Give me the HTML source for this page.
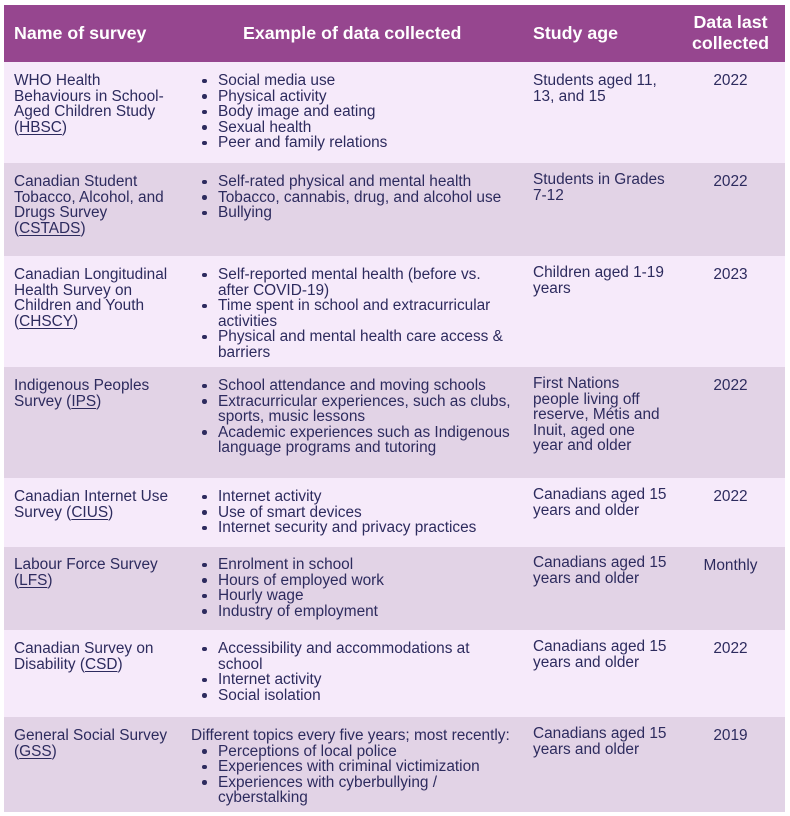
<!DOCTYPE html>
<html>
<head>
<meta charset="utf-8">
<style>
  html,body{margin:0;padding:0;}
  body{width:790px;height:816px;background:#ffffff;position:relative;overflow:hidden;
       font-family:"Liberation Sans",Arial,sans-serif;color:#2d2b5e;}
  .row{position:absolute;left:4px;width:781px;}
  .hd{background:#96468f;}
  .lt{background:#f6eafa;}
  .dk{background:#e2d3e6;}
  .h{position:absolute;color:#ffffff;font-weight:bold;font-size:17.8px;line-height:21px;white-space:nowrap;}
  .c{position:absolute;font-size:15.4px;line-height:15.5px;white-space:nowrap;margin-top:1px;}
  .c1{left:14px;}
  .c2{left:218px;}
  .c3{left:533px;}
  .c4{left:677px;width:107px;text-align:center;}
  .li{position:relative;}
  .li::before{content:"";position:absolute;left:-16px;top:5.5px;width:4.6px;height:4.6px;border-radius:50%;background:#2d2b5e;}
  u{text-decoration:underline;text-underline-offset:2px;}
</style>
</head>
<body>
  <!-- row backgrounds -->
  <div class="row hd" style="top:5px;height:57px;"></div>
  <div class="row lt" style="top:62px;height:101px;"></div>
  <div class="row dk" style="top:163px;height:93px;"></div>
  <div class="row lt" style="top:256px;height:111px;"></div>
  <div class="row dk" style="top:367px;height:111px;"></div>
  <div class="row lt" style="top:478px;height:69px;"></div>
  <div class="row dk" style="top:547px;height:83px;"></div>
  <div class="row lt" style="top:630px;height:87px;"></div>
  <div class="row dk" style="top:717px;height:95px;"></div>

  <!-- header -->
  <div class="h" style="left:14px;top:23px;">Name of survey</div>
  <div class="h" style="left:243px;top:23px;">Example of data collected</div>
  <div class="h" style="left:533px;top:23px;">Study age</div>
  <div class="h" style="left:677px;width:107px;text-align:center;top:12px;">Data last<br>collected</div>

  <!-- row 1 -->
  <div class="c c1" style="top:72px;">WHO Health<br>Behaviours in School-<br>Aged Children Study<br>(<u>HBSC</u>)</div>
  <div class="c c2" style="top:72px;">
    <div class="li">Social media use</div>
    <div class="li">Physical activity</div>
    <div class="li">Body image and eating</div>
    <div class="li">Sexual health</div>
    <div class="li">Peer and family relations</div>
  </div>
  <div class="c c3" style="top:72px;">Students aged 11,<br>13, and 15</div>
  <div class="c c4" style="top:72px;">2022</div>

  <!-- row 2 -->
  <div class="c c1" style="top:173px;">Canadian Student<br>Tobacco, Alcohol, and<br>Drugs Survey<br>(<u>CSTADS</u>)</div>
  <div class="c c2" style="top:173px;">
    <div class="li">Self-rated physical and mental health</div>
    <div class="li">Tobacco, cannabis, drug, and alcohol use</div>
    <div class="li">Bullying</div>
  </div>
  <div class="c c3" style="top:171px;">Students in Grades<br>7-12</div>
  <div class="c c4" style="top:173px;">2022</div>

  <!-- row 3 -->
  <div class="c c1" style="top:266px;">Canadian Longitudinal<br>Health Survey on<br>Children and Youth<br>(<u>CHSCY</u>)</div>
  <div class="c c2" style="top:266px;">
    <div class="li">Self-reported mental health (before vs.<br>after COVID-19)</div>
    <div class="li">Time spent in school and extracurricular<br>activities</div>
    <div class="li">Physical and mental health care access &amp;<br>barriers</div>
  </div>
  <div class="c c3" style="top:264px;">Children aged 1-19<br>years</div>
  <div class="c c4" style="top:266px;">2023</div>

  <!-- row 4 -->
  <div class="c c1" style="top:377px;">Indigenous Peoples<br>Survey (<u>IPS</u>)</div>
  <div class="c c2" style="top:377px;">
    <div class="li">School attendance and moving schools</div>
    <div class="li">Extracurricular experiences, such as clubs,<br>sports, music lessons</div>
    <div class="li">Academic experiences such as Indigenous<br>language programs and tutoring</div>
  </div>
  <div class="c c3" style="top:375px;">First Nations<br>people living off<br>reserve, Métis and<br>Inuit, aged one<br>year and older</div>
  <div class="c c4" style="top:377px;">2022</div>

  <!-- row 5 -->
  <div class="c c1" style="top:488px;">Canadian Internet Use<br>Survey (<u>CIUS</u>)</div>
  <div class="c c2" style="top:488px;">
    <div class="li">Internet activity</div>
    <div class="li">Use of smart devices</div>
    <div class="li">Internet security and privacy practices</div>
  </div>
  <div class="c c3" style="top:486px;">Canadians aged 15<br>years and older</div>
  <div class="c c4" style="top:488px;">2022</div>

  <!-- row 6 -->
  <div class="c c1" style="top:556px;">Labour Force Survey<br>(<u>LFS</u>)</div>
  <div class="c c2" style="top:556px;">
    <div class="li">Enrolment in school</div>
    <div class="li">Hours of employed work</div>
    <div class="li">Hourly wage</div>
    <div class="li">Industry of employment</div>
  </div>
  <div class="c c3" style="top:554px;">Canadians aged 15<br>years and older</div>
  <div class="c c4" style="top:557px;">Monthly</div>

  <!-- row 7 -->
  <div class="c c1" style="top:640px;">Canadian Survey on<br>Disability (<u>CSD</u>)</div>
  <div class="c c2" style="top:640px;">
    <div class="li">Accessibility and accommodations at<br>school</div>
    <div class="li">Internet activity</div>
    <div class="li">Social isolation</div>
  </div>
  <div class="c c3" style="top:638px;">Canadians aged 15<br>years and older</div>
  <div class="c c4" style="top:640px;">2022</div>

  <!-- row 8 -->
  <div class="c c1" style="top:727px;">General Social Survey<br>(<u>GSS</u>)</div>
  <div class="c" style="left:191px;top:727px;">Different topics every five years; most recently:</div>
  <div class="c c2" style="top:742.5px;">
    <div class="li">Perceptions of local police</div>
    <div class="li">Experiences with criminal victimization</div>
    <div class="li">Experiences with cyberbullying /<br>cyberstalking</div>
  </div>
  <div class="c c3" style="top:725px;">Canadians aged 15<br>years and older</div>
  <div class="c c4" style="top:727px;">2019</div>
</body>
</html>
